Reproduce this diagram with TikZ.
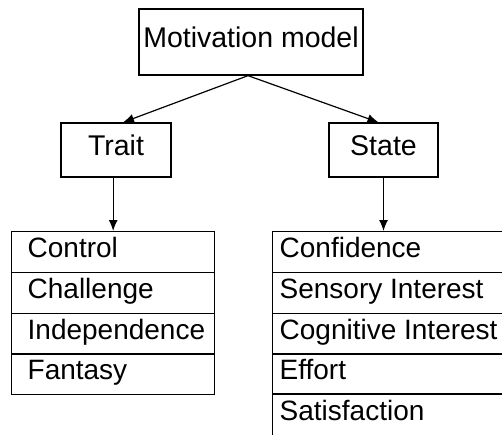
\documentclass[tikz,border=0pt]{standalone}
\usepackage{fontspec}
\setmainfont{Liberation Sans}
\usetikzlibrary{calc,arrows.meta}
\tikzset{
  box/.style={draw, line width=1.3pt, font=\fontsize{28.5}{32}\selectfont, text height=18pt, text depth=7pt, inner sep=0pt},
  rowbox/.style={draw, line width=1.3pt, font=\fontsize{28}{32}\selectfont, text height=18pt, text depth=7pt, anchor=north west, minimum height=41pt, inner xsep=16pt, inner ysep=0pt, align=flush left},
  conn/.style={line width=1.2pt, -{Latex[length=11pt,width=9pt]}}
}
\begin{document}
\begin{tikzpicture}[x=1pt,y=-1pt]
\useasboundingbox (0,0) rectangle (502,434);
\clip (0,0) rectangle (502,434);
\node[box, minimum width=224pt, minimum height=66pt] (top) at (251,42) {Motivation model};
\node[box, minimum width=110pt, minimum height=54pt] (trait) at (116,150) {Trait};
\node[box, minimum width=109pt, minimum height=54pt] (state) at (383.5,150) {State};
% left list
\node[rowbox, text width=171pt] (control) at (11,231) {Control};
\node[rowbox, text width=171pt] (challenge) at (11,272) {Challenge};
\node[rowbox, text width=171pt] (indep) at (11,313) {Independence};
\node[rowbox, text width=171pt] (fantasy) at (11,353) {Fantasy};
% right list
\node[rowbox, inner xsep=7pt, text width=224pt] (conf) at (272,231) {Confidence};
\node[rowbox, inner xsep=7pt, text width=224pt] (sens) at (272,272) {Sensory Interest};
\node[rowbox, inner xsep=7pt, text width=224pt] (cog) at (272,313) {Cognitive Interest};
\node[rowbox, inner xsep=7pt, text width=224pt] (effort) at (272,353) {Effort};
\node[rowbox, inner xsep=7pt, text width=224pt, minimum height=50pt, text height=18pt, text depth=14pt] (satis) at (272,393) {Satisfaction};
% connectors
\coordinate (tsrc) at ($(top.south)+(-3,0)$);
\draw[conn] (tsrc) -- ($(trait.north)+(7,0)$);
\draw[conn] (tsrc) -- ($(state.north)+(-5,0)$);
\draw[conn] (control.north |- trait.south) -- (control.north);
\draw[conn] (state.south) -- (state.south |- conf.north);
\end{tikzpicture}
\end{document}
